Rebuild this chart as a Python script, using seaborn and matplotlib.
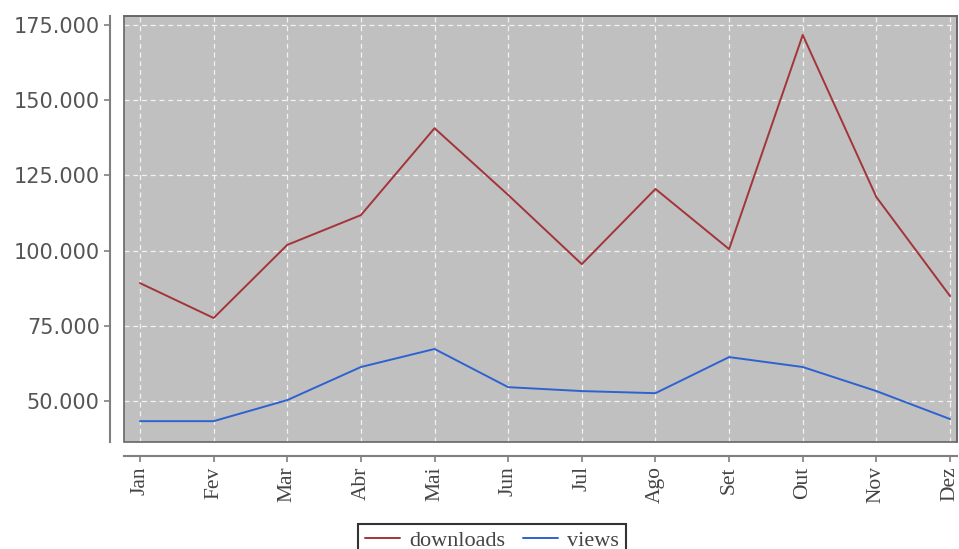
import numpy as np
import pandas as pd
import seaborn as sns
import matplotlib.pyplot as plt
from matplotlib.patches import Rectangle
from matplotlib.ticker import FuncFormatter, MultipleLocator

months = ['Jan', 'Fev', 'Mar', 'Abr', 'Mai', 'Jun', 'Jul', 'Ago', 'Set', 'Out', 'Nov', 'Dez']
downloads = [89200, 77600, 101900, 111800, 140700, 118500, 95500, 120500, 100500, 171700, 117800, 84900]
views = [43300, 43300, 50300, 61300, 67300, 54600, 53300, 52600, 64600, 61300, 53300, 44000]

df = pd.DataFrame({'mes': months * 2,
                   'valor': downloads + views,
                   'serie': ['downloads'] * 12 + ['views'] * 12})
df['x'] = list(range(12)) * 2

sns.set_style('ticks')
fig = plt.figure(figsize=(9.59, 5.49), dpi=100)
ax = fig.add_axes([124 / 959, 1 - 442 / 549, 833 / 959, 426 / 549])
ax.set_facecolor('#c0c0c0')

sns.lineplot(data=df, x='x', y='valor', hue='serie', ax=ax,
             palette={'downloads': '#a3343a', 'views': '#2e62d0'}, linewidth=1.4)

# plot border + offset axis lines (done first: set_position resets the ticks)
for s in ['top', 'right']:
    ax.spines[s].set_visible(True)
    ax.spines[s].set_color('#666666')
    ax.spines[s].set_linewidth(1.2)
for s in ['left', 'bottom']:
    ax.spines[s].set_visible(True)
    ax.spines[s].set_position(('outward', 10))
    ax.spines[s].set_color('#808080')
    ax.spines[s].set_linewidth(1.5)
ax.add_patch(Rectangle((0, 0), 1, 1, transform=ax.transAxes, fill=False,
                       edgecolor='#666666', linewidth=1.2, clip_on=False, zorder=5))

ax.set_xlim(-0.217, 11.095)
ax.set_ylim(36370, 178000)
ax.yaxis.set_major_locator(MultipleLocator(25000))
ax.yaxis.set_major_formatter(FuncFormatter(lambda v, p: f"{v:,.0f}".replace(',', '.')))
ax.set_xticks(range(12))
ax.set_xticklabels(months, rotation=90, family='Liberation Serif', fontsize=15.5, color='#444444')
ax.tick_params(axis='y', labelsize=15, labelcolor='#555555')
ax.tick_params(axis='both', which='both', direction='out', length=4, width=1.2,
               color='#808080', left=True, bottom=True)
ax.set_xlabel('')
ax.set_ylabel('')

# grid
ax.grid(True, color='white', linestyle=(0, (4, 3)), linewidth=0.9, alpha=0.8)
ax.set_axisbelow(True)

ax.get_legend().remove()
h, l = ax.get_legend_handles_labels()
leg = fig.legend(h, l, loc='upper center', bbox_to_anchor=(0.513, 0.066), ncol=2,
                 frameon=True, fancybox=False, prop={'family': 'Liberation Serif', 'size': 16},
                 handlelength=1.6, handletextpad=0.4, columnspacing=0.8, borderpad=0.3,
                 labelcolor='#444444')
leg.get_frame().set_edgecolor('black')
leg.get_frame().set_linewidth(1.5)

plt.savefig('out.png', dpi=100)
